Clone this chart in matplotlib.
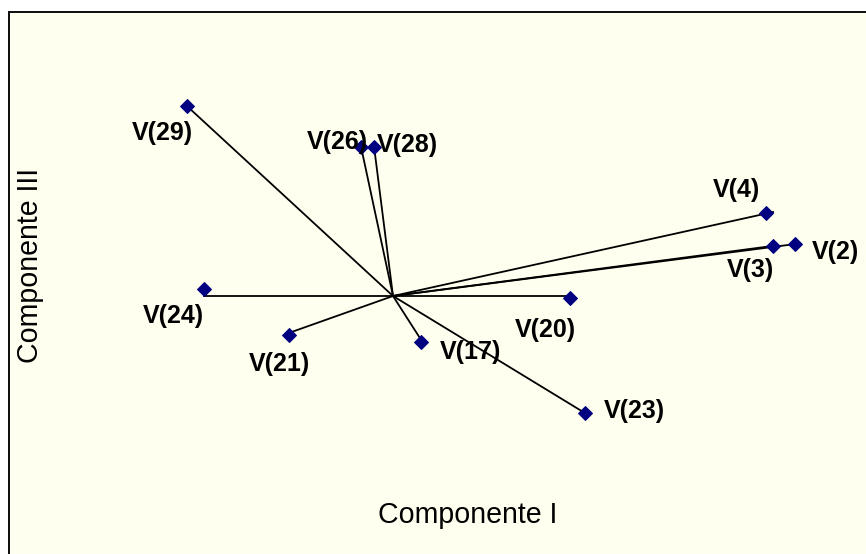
import matplotlib
matplotlib.use("Agg")
import matplotlib.pyplot as plt

# loadings (Componente I vs Componente III)
names = ["V(2)", "V(3)", "V(4)", "V(17)", "V(20)", "V(21)",
         "V(23)", "V(24)", "V(26)", "V(28)", "V(29)"]
comp1 = [0.957, 0.905, 0.888, 0.067, 0.421, -0.248,
         0.457, -0.450, -0.076, -0.045, -0.490]
comp3 = [0.186, 0.179, 0.296, -0.164, -0.007, -0.139,
         -0.418, 0.025, 0.532, 0.532, 0.679]
# the vector lines end a little off the markers in the original
line1 = [0.960, 0.905, 0.905, 0.067, 0.421, -0.248,
         0.457, -0.450, -0.076, -0.045, -0.486]
line3 = [0.186, 0.179, 0.300, -0.157, 0.0, -0.132,
         -0.418, 0.0, 0.532, 0.532, 0.672]
# label offsets in pixels (dx right, dy down)
lab_dx = [41, -23, -30, 49, -24, -9, 49, -31, -24, 33, -25]
lab_dy = [8, 24, -23, 10, 32, 29, -2, 27, -5, -2, 27]

W, H = 866, 554
fig = plt.figure(figsize=(W / 72, H / 72), dpi=72, facecolor="white")
ax = fig.add_axes([9 / W, 0, 1 - 9 / W, (H - 12) / H])
ax.set_facecolor("#FFFFF0")

for x, y in zip(line1, line3):
    ax.plot([0, x], [0, y], color="black", lw=1.8, zorder=2)
ax.plot(comp1, comp3, linestyle="none", marker="D", ms=9.5,
        color="#000080", zorder=3)

for n, x, y, dx, dy in zip(names, comp1, comp3, lab_dx, lab_dy):
    ax.annotate(n, (x, y), xytext=(dx, -dy), textcoords="offset points",
                ha="center", va="center", fontsize=25, fontweight="bold",
                family="Liberation Sans", color="black", zorder=4)

ax.set_xlim(-0.9143, 1.1262)
ax.set_ylim(-0.9214, 1.0143)
ax.set_xticks([])
ax.set_yticks([])
for s in ["right", "bottom"]:
    ax.spines[s].set_visible(False)
for s in ["left", "top"]:
    ax.spines[s].set_linewidth(2)
    ax.spines[s].set_color("#111111")

fig.text(468 / W, 1 - 515 / H, "Componente I", ha="center", va="center",
         fontsize=28.5, family="Liberation Sans")
fig.text(30 / W, 1 - 265 / H, "Componente III", ha="center", va="center",
         rotation=90, fontsize=28.5, family="Liberation Sans")

fig.savefig("out.png", dpi=72, facecolor="white")
